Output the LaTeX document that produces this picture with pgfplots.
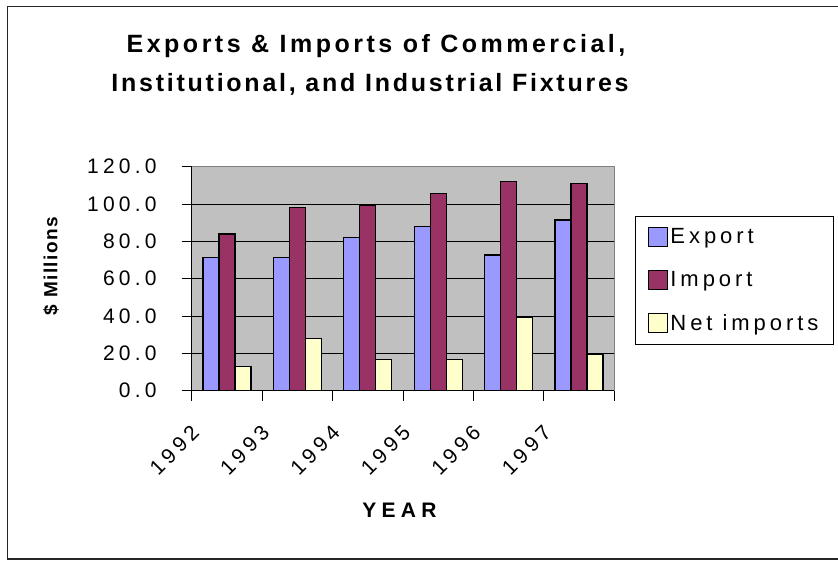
\documentclass[border=0pt]{standalone}
\usepackage{pgfplots}
\pgfplotsset{compat=1.18}
\usepackage{fontspec}
\setmainfont{Liberation Sans}
\newfontfamily\tickfont[LetterSpace=20]{Liberation Sans}
\newfontfamily\legfont[LetterSpace=18]{Liberation Sans}
\newfontfamily\titlefontA[LetterSpace=14]{Liberation Sans}
\newfontfamily\titlefontB[LetterSpace=11]{Liberation Sans}
\newfontfamily\labfont[LetterSpace=25]{Liberation Sans}
\newfontfamily\ylabfont[LetterSpace=8]{Liberation Sans}
\definecolor{cexp}{HTML}{9999FF}
\definecolor{cimp}{HTML}{993366}
\definecolor{cnet}{HTML}{FFFFCC}
\definecolor{plotbg}{HTML}{C0C0C0}
\pgfplotsset{
  mybar/.style={draw=black, line width=1.2pt,
    legend image code/.code={\draw[##1, line width=1pt] (0pt,-9.5pt) rectangle (19pt,9.5pt);}}
}
\begin{document}
\begin{tikzpicture}
\useasboundingbox (0pt,0pt) rectangle (838pt,561pt);
\draw[line width=1.2pt, black!85] (7.5pt,2pt) rectangle (845pt,554.3pt);
\begin{axis}[
  at={(191.7pt,170.3pt)}, anchor=south west,
  scale only axis, width=422.6pt, height=224pt,
  ymin=0, ymax=120, xmin=-0.5, xmax=5.5,
  ybar=0pt, bar width=16pt,
  axis background/.style={fill=plotbg, draw=gray, line width=1pt},
  axis lines*=left,
  axis line style={black, line width=1pt},
  ytick={0,20,...,100},
  extra y ticks={120},
  extra y tick style={grid=none},
  ymajorgrids, grid style={black, line width=0.8pt},
  tick align=outside, major tick length=10pt,
  tick style={black, line width=0.8pt},
  /pgf/number format/fixed, /pgf/number format/fixed zerofill,
  /pgf/number format/precision=1, /pgf/number format/assume math mode=true,
  yticklabel style={font=\tickfont\fontsize{21}{25}\selectfont, inner sep=0pt, xshift=-25pt},
  xtick={-0.5,0.5,...,5.5},
  xticklabels={{},{},{},{},{},{},{}},
  extra x ticks={0,1,2,3,4,5},
  extra x tick labels={1992,1993,1994,1995,1996,1997},
  extra x tick style={major tick length=0pt, grid=none,
    xticklabel style={font=\tickfont\fontsize{21}{25}\selectfont, inner sep=0pt, anchor=north east, xshift=-37pt, yshift=-33pt, rotate=45}},
  xlabel={YEAR},
  xlabel style={at={(axis description cs:0.4917,-0.566)}, anchor=base, font=\labfont\bfseries\fontsize{21}{25}\selectfont},
  ylabel={\$ Millions},
  ylabel style={at={(axis description cs:-0.318,0.793)}, anchor=base east, rotate=0, font=\ylabfont\bfseries\fontsize{19}{23}\selectfont},
  legend style={at={(1.049,0.78)}, anchor=north west, draw=black, line width=0.8pt,
    font=\legfont\fontsize{22}{26}\selectfont, inner xsep=13pt, inner ysep=10pt, row sep=22.5pt,
    /tikz/every even column/.append style={column sep=8pt}},
  legend cell align=left,
]
\addplot[mybar, fill=cexp] coordinates {(0,71.2) (1,71.2) (2,82.2) (3,87.8) (4,72.7) (5,91.4)};
\addplot[mybar, fill=cimp] coordinates {(0,83.9) (1,98.0) (2,99.1) (3,105.7) (4,111.9) (5,111.1)};
\addplot[mybar, fill=cnet] coordinates {(0,12.9) (1,28.1) (2,16.8) (3,16.8) (4,39.1) (5,19.7)};
\legend{Export, Import, Net imports}
\end{axis}
\node[anchor=base, font=\titlefontA\bfseries\fontsize{25}{30}\selectfont] at (376pt,508pt) {Exports \& Imports of Commercial,};
\node[anchor=base, font=\titlefontB\bfseries\fontsize{25}{30}\selectfont] at (370pt,469pt) {Institutional, and Industrial Fixtures};
\end{tikzpicture}
\end{document}
